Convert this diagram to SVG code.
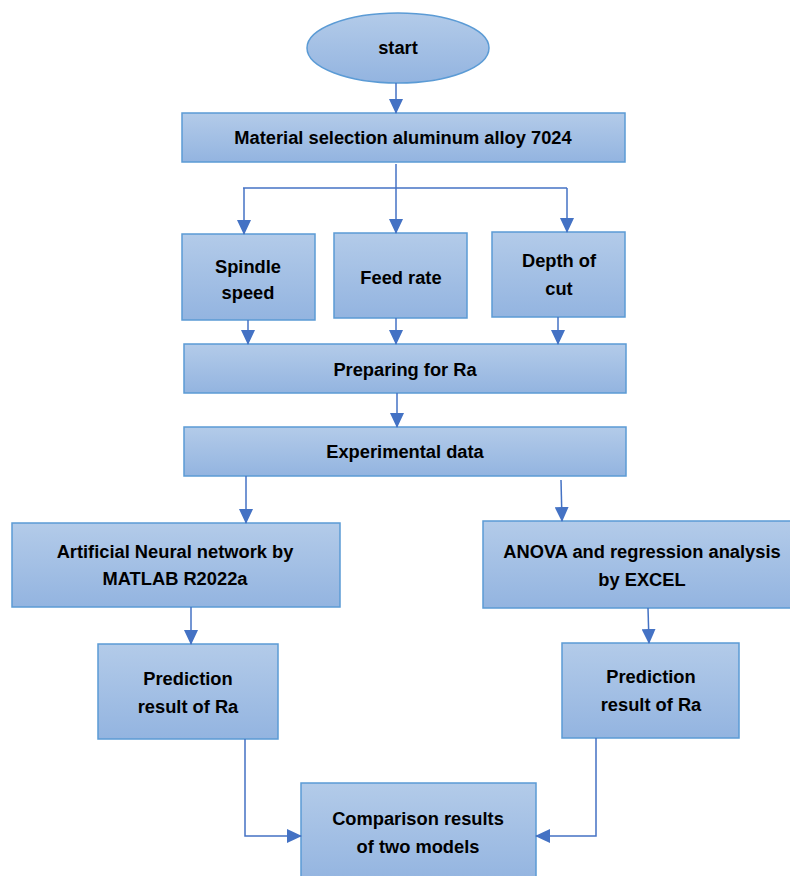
<svg xmlns="http://www.w3.org/2000/svg" width="790" height="876" viewBox="0 0 790 876">
<defs>
<linearGradient id="g" x1="0" y1="0" x2="0" y2="1">
<stop offset="0" stop-color="#b3cbe9"/>
<stop offset="1" stop-color="#93b4e0"/>
</linearGradient>
<marker id="ah" viewBox="0 0 15 14" refX="14" refY="7" markerWidth="15" markerHeight="14" markerUnits="userSpaceOnUse" orient="auto">
<path d="M0,0 L15,7 L0,14 Z" fill="#4472c4"/>
</marker>
<style>
.box{fill:url(#g);stroke:#5b9bd5;stroke-width:1.5}
.t{font-family:"Liberation Sans",Arial,sans-serif;font-weight:bold;font-size:18.3px;fill:#000;text-anchor:middle;dominant-baseline:central}
.c{fill:none;stroke:#4472c4;stroke-width:1.5}
.a{marker-end:url(#ah)}
</style>
</defs>
<rect width="790" height="876" fill="#fff"/>
<g id="start"><ellipse class="box" cx="398" cy="48" rx="91" ry="35"/><text class="t" x="398" y="47">start</text></g>
<g id="material"><rect class="box" x="182" y="113" width="443" height="49"/><text class="t" x="403" y="137">Material selection aluminum alloy 7024</text></g>
<g id="spindle"><rect class="box" x="182" y="234" width="133" height="86"/><text class="t" x="248" y="266">Spindle</text><text class="t" x="248" y="292">speed</text></g>
<g id="feed"><rect class="box" x="334" y="233" width="133" height="85"/><text class="t" x="401" y="277">Feed rate</text></g>
<g id="depth"><rect class="box" x="492" y="232" width="133" height="85"/><text class="t" x="559" y="260">Depth of</text><text class="t" x="559" y="288">cut</text></g>
<g id="preparing"><rect class="box" x="184" y="344" width="442" height="49"/><text class="t" x="405" y="369">Preparing for Ra</text></g>
<g id="experimental"><rect class="box" x="184" y="427" width="442" height="49"/><text class="t" x="405" y="451">Experimental data</text></g>
<g id="ann"><rect class="box" x="12" y="523" width="328" height="84"/><text class="t" x="175" y="551">Artificial Neural network by</text><text class="t" x="175" y="578">MATLAB R2022a</text></g>
<g id="anova"><rect class="box" x="483" y="521" width="310" height="87"/><text class="t" x="642" y="551">ANOVA and regression analysis</text><text class="t" x="642" y="579">by EXCEL</text></g>
<g id="pred1"><rect class="box" x="98" y="644" width="180" height="95"/><text class="t" x="188" y="678">Prediction</text><text class="t" x="188" y="706">result of Ra</text></g>
<g id="pred2"><rect class="box" x="562" y="643" width="177" height="95"/><text class="t" x="651" y="676">Prediction</text><text class="t" x="651" y="704">result of Ra</text></g>
<g id="comparison"><rect class="box" x="301" y="783" width="235" height="100"/><text class="t" x="418" y="818">Comparison results</text><text class="t" x="418" y="846">of two models</text></g>
<g id="connectors">
<line class="c a" x1="396" y1="83" x2="396" y2="113"/>
<polyline class="c" points="396,164 396,188"/>
<polyline class="c" points="243,188 567,188"/>
<line class="c a" x1="244" y1="188" x2="244" y2="234"/>
<line class="c a" x1="396" y1="188" x2="396" y2="233"/>
<line class="c a" x1="567" y1="188" x2="567" y2="232"/>
<line class="c a" x1="248" y1="320" x2="248" y2="344"/>
<line class="c a" x1="396" y1="318" x2="396" y2="344"/>
<line class="c a" x1="558" y1="317" x2="558" y2="344"/>
<line class="c a" x1="397" y1="393" x2="397" y2="427"/>
<line class="c a" x1="246" y1="476" x2="246" y2="523"/>
<line class="c a" x1="561" y1="480" x2="562" y2="521"/>
<line class="c a" x1="191" y1="607" x2="191" y2="644"/>
<line class="c a" x1="648" y1="608" x2="649" y2="643"/>
<polyline class="c a" points="245,739 245,836 301,836"/>
<polyline class="c a" points="596,738 596,836 536,836"/>
</g>
</svg>
